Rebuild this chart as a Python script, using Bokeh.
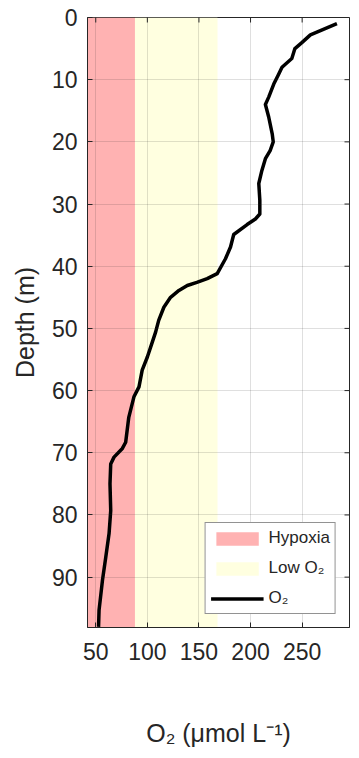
import math
from bokeh.plotting import figure
from bokeh.models import Range1d, FixedTicker
from bokeh.embed import file_html
from bokeh.resources import INLINE

# Dissolved oxygen profile (depth in m, O2 in umol/L)
depth_m = [1.0, 2.8, 4.0, 5.0, 6.6, 8.0, 9.2, 10.7, 12.8, 14.0, 16.0, 18.7, 20.0,
           21.4, 22.7, 24.6, 26.7, 29.4, 31.6, 32.4, 33.3, 34.9, 36.9, 38.8, 41.2,
           42.0, 42.6, 43.1, 43.9, 45.0, 46.6, 48.7, 50.6, 52.2, 54.6, 56.7, 59.4,
           61.0, 64.3, 68.3, 69.3, 70.7, 71.8, 75.0, 79.3, 83.0, 86.8, 90.5, 92.7,
           95.3, 98.0]
o2_umol = [283.7, 258.0, 250.0, 243.0, 240.0, 230.5, 227.0, 222.5, 217.6, 214.4,
           217.6, 221.0, 222.0, 219.0, 214.4, 211.0, 208.0, 209.0, 209.0, 204.7,
           196.7, 183.7, 180.6, 175.7, 167.7, 158.0, 148.0, 138.7, 130.6, 122.5,
           116.0, 111.0, 108.0, 104.8, 100.0, 95.0, 91.9, 87.0, 82.0, 79.0, 75.8,
           67.7, 64.5, 63.8, 64.5, 62.9, 59.7, 56.5, 55.0, 53.2, 52.7]

# Oxygen thresholds (umol/L)
hypoxia_limit = 88
low_o2_limit = 168

x_ticks = [50, 100, 150, 200, 250]
y_ticks = [0, 10, 20, 30, 40, 50, 60, 70, 80, 90]

FONT = "Liberation Sans"
INK = "#262626"

x_rng = Range1d(42.0, 295.9)
y_rng = Range1d(98.1, 0)

p = figure(width=359, height=758, output_backend="svg", toolbar_location=None,
           x_range=x_rng, y_range=y_rng,
           min_border_left=87, min_border_right=10, min_border_top=17,
           min_border_bottom=131)
p.background_fill_color = "white"
p.border_fill_color = "white"
p.outline_line_color = INK
p.outline_line_width = 1

# Shaded oxygen regimes
p.quad(left=[0], right=[hypoxia_limit], bottom=[0], top=[200],
       fill_color="#FFB2B2", line_color=None, legend_label="Hypoxia")
p.quad(left=[hypoxia_limit], right=[low_o2_limit], bottom=[0], top=[200],
       fill_color="#FFFFE0", line_color=None, legend_label="Low O\u2082")

# O2 profile
p.line(o2_umol, depth_m, line_color="black", line_width=3.5,
       line_join="round", legend_label="O\u2082")

# Inward tick marks along the top and right edges of the box
p.scatter(x_ticks, [y_rng.end] * len(x_ticks), marker="dash", size=10,
          angle=math.pi / 2, line_color=INK, line_width=1)
p.scatter([x_rng.end] * len(y_ticks), y_ticks, marker="dash", size=10,
          line_color=INK, line_width=1)

# Axes
for ax in (p.xaxis[0], p.yaxis[0]):
    ax.axis_line_color = INK
    ax.major_tick_line_color = INK
    ax.major_tick_in = 5
    ax.major_tick_out = 0
    ax.minor_tick_line_color = None
    ax.major_label_text_font = FONT
    ax.major_label_text_font_size = "23px"
    ax.major_label_text_color = INK
    ax.axis_label_text_font = FONT
    ax.axis_label_text_font_size = "25px"
    ax.axis_label_text_font_style = "normal"
    ax.axis_label_text_color = INK

p.xaxis[0].ticker = FixedTicker(ticks=x_ticks)
p.yaxis[0].ticker = FixedTicker(ticks=y_ticks)
p.xaxis[0].major_label_standoff = 15
p.yaxis[0].major_label_standoff = 10
p.xaxis[0].axis_label = "O\u2082 (\u03bcmol L\u207b\u00b9)"
p.yaxis[0].axis_label = "Depth (m)"
p.xaxis[0].axis_label_standoff = 56
p.yaxis[0].axis_label_standoff = 10

# Grid
for g in (p.xgrid[0], p.ygrid[0]):
    g.grid_line_color = INK
    g.grid_line_alpha = 0.15
    g.level = "guide"
p.xgrid[0].ticker = FixedTicker(ticks=x_ticks)
p.ygrid[0].ticker = FixedTicker(ticks=y_ticks)

# Legend
lg = p.legend[0]
lg.location = "bottom_right"
lg.margin = 13
lg.padding = 5
lg.spacing = 10
lg.glyph_width = 53
lg.glyph_height = 17
lg.label_standoff = 5
lg.label_text_font = FONT
lg.label_text_font_size = "17px"
lg.label_text_color = INK
lg.border_line_color = INK
lg.border_line_width = 1
lg.background_fill_alpha = 1.0

open("out.html", "w").write(file_html(p, INLINE))
